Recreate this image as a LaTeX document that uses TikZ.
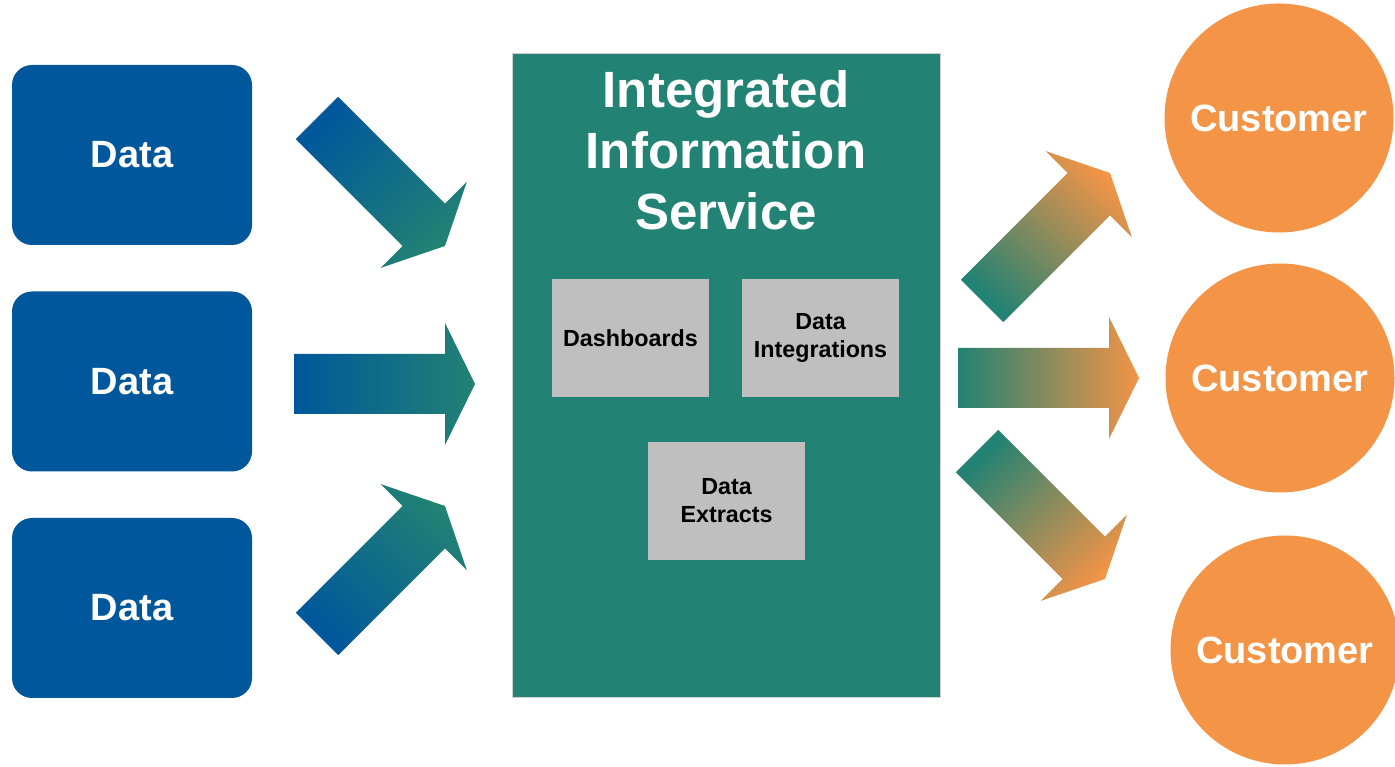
\documentclass[tikz,border=0pt]{standalone}
\usepackage{fontspec}
\setmainfont{Liberation Sans}
\usetikzlibrary{calc}
\definecolor{dblue}{RGB}{0,87,155}
\definecolor{tealc}{RGB}{34,130,115}
\definecolor{orng}{RGB}{243,148,71}
\definecolor{gbox}{RGB}{191,191,191}
\newcommand\bigarrow[5]{%
  \pgfmathsetmacro\arL{#2+90}%
  \pgfmathsetmacro\arR{#2-90}%
  \pgfmathsetmacro\arS{#2-90}%
  \shade[bottom color=#3, middle color=#5, top color=#4, shading angle=\arS]
    ($#1+(\arL:30)$) -- ($#1+(#2:151)+(\arL:30)$) -- ($#1+(#2:151)+(\arL:61)$)
    -- ($#1+(#2:181)$) -- ($#1+(#2:151)+(\arR:61)$) -- ($#1+(#2:151)+(\arR:30)$)
    -- ($#1+(\arR:30)$) -- cycle;}
\begin{document}
\begin{tikzpicture}[x=1pt,y=1pt,
  databox/.style={fill=dblue, rounded corners=20pt, minimum width=240pt, minimum height=180pt,
    inner sep=0pt, text=white, font=\bfseries\fontsize{38}{44}\selectfont},
  mainbox/.style={fill=tealc, draw=gray!35, line width=0.8pt, minimum width=428pt, minimum height=644pt, inner sep=0pt},
  titletext/.style={text=white, align=center, inner sep=0pt, font=\bfseries\fontsize{51}{61}\selectfont},
  graybox/.style={fill=gbox, minimum width=157pt, minimum height=118pt, inner sep=0pt,
    align=center, text=black, font=\bfseries\fontsize{23.3}{28}\selectfont},
  custcircle/.style={circle, fill=orng, minimum size=229pt, inner sep=0pt, text=white,
    font=\bfseries\fontsize{38}{44}\selectfont}]
\useasboundingbox (0,0) rectangle (1395,767);
\fill[white] (0,0) rectangle (1395,767);
% data sources
\node[databox] (d1) at (132,612) {Data};
\node[databox] (d2) at (132,385.5) {Data};
\node[databox] (d3) at (132,159) {Data};
% central service
\node[mainbox] (svc) at (726,392) {};
\node[titletext] (title) at (726,617) {Integrated\\Information\\Service};
\node[graybox] (dash) at (630.5,429) {Dashboards};
\node[graybox] (integ) at (820.5,429) {Data\\Integrations};
\node[graybox] (extr) at (726.5,266) {Data\\Extracts};
% customers
\node[custcircle] (c1) at (1279,649) {Customer};
\node[custcircle] (c2) at (1280,389) {Customer};
\node[custcircle] (c3) at (1285,117) {Customer};
% arrows
\bigarrow{(317,649)}{-45}{dblue}{tealc}{dblue!45!tealc}
\bigarrow{(294,383)}{0}{dblue}{tealc}{dblue!45!tealc}
\bigarrow{(317,133)}{45}{dblue}{tealc}{dblue!45!tealc}
\bigarrow{(982,466)}{45}{tealc}{orng}{orng!82!tealc}
\bigarrow{(958,389)}{0}{tealc}{orng}{orng!72!tealc}
\bigarrow{(977,316)}{-45}{tealc}{orng}{orng!82!tealc}
\end{tikzpicture}
\end{document}
